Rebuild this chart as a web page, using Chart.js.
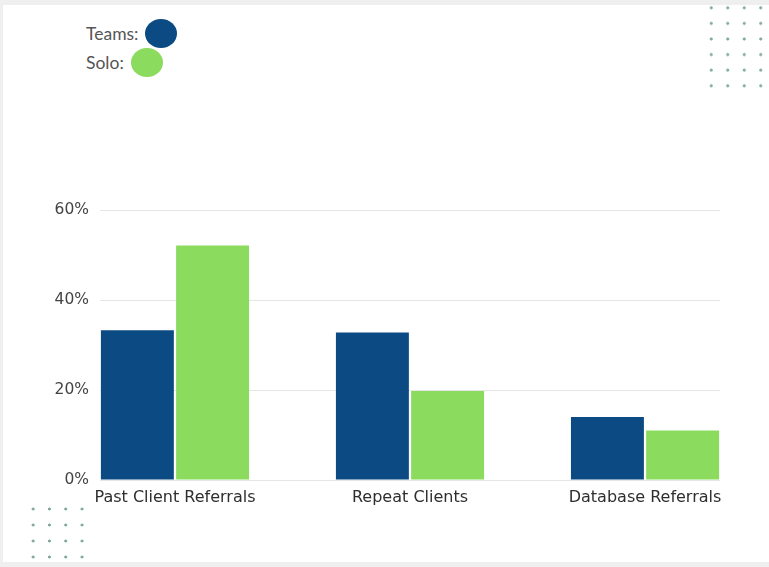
<!DOCTYPE html>
<html>
<head>
<meta charset="utf-8">
<script src="https://cdn.jsdelivr.net/npm/chart.js@4.4.1/dist/chart.umd.min.js"></script>
<style>
  html, body { margin: 0; padding: 0; background: #efefef; }
  #card { position: absolute; left: 3px; top: 5px; right: 0; bottom: 5px; background: #fff; }
  #wrap { position: absolute; left: 0; top: 0; width: 769px; height: 567px; }
  .legend { position: absolute; left: 86px; height: 30px; font-family: Lato, sans-serif; font-size: 17.5px; color: #555; display: flex; align-items: center; }
  .legend span.dot { display: inline-block; width: 32px; height: 29px; border-radius: 50%; margin-left: 7px; }
  .dots { position: absolute; background-image: radial-gradient(circle, #7faaa5 1.3px, transparent 1.8px); }
</style>
</head>
<body>
<div id="card"></div>
<div class="dots" style="left:703px; top:0px; width:66px; height:94px; background-size:16.5px 15.6px;"></div>
<div class="dots" style="left:25px; top:501px; width:66px; height:64px; background-size:16.3px 16px;"></div>
<div class="legend" style="top:18px;">Teams:<span class="dot" id="dotTeams"></span></div>
<div class="legend" style="top:47px;">Solo:<span class="dot" id="dotSolo"></span></div>
<div id="wrap"><canvas id="barChart" width="769" height="567"></canvas></div>
<script>
// categories and values (percent)
const categories = ["Past Client Referrals", "Repeat Clients", "Database Referrals"];
const teamsValues = [33.3, 32.8, 14];
const soloValues = [52.1, 19.8, 11];
const yTicks = [0, 20, 40, 60];

const teamsColor = "#0b4a82";
const soloColor = "#8bdb5f";

document.getElementById("dotTeams").style.background = teamsColor;
document.getElementById("dotSolo").style.background = soloColor;

const toPoints = (arr) => arr.map((v, i) => ({ x: i, y: v }));

const ctx = document.getElementById("barChart");
new Chart(ctx, {
  type: "bar",
  data: {
    datasets: [
      {
        label: "Teams",
        data: toPoints(teamsValues),
        backgroundColor: teamsColor,
        categoryPercentage: 0.64,
        barPercentage: 0.97,
      },
      {
        label: "Solo",
        data: toPoints(soloValues),
        backgroundColor: soloColor,
        categoryPercentage: 0.64,
        barPercentage: 0.97,
      },
    ],
  },
  options: {
    responsive: false,
    animation: false,
    layout: { padding: { left: 0, right: 49, top: 210, bottom: 57 } },
    plugins: { legend: { display: false }, tooltip: { enabled: false } },
    scales: {
      x: {
        type: "linear",
        offset: false,
        min: -0.319,
        max: 2.319,
        grid: { display: false, drawTicks: false, offset: false },
        border: { display: false },
        afterBuildTicks: (scale) => {
          scale.ticks = categories.map((_, i) => ({ value: i }));
        },
        afterFit: (scale) => {
          scale.height = 30;
        },
        ticks: {
          padding: 8,
          color: "#2e2e2e",
          font: { family: "'DejaVu Sans'", size: 16 },
          callback: (v) => categories[v],
        },
      },
      y: {
        min: 0,
        max: 60,
        afterBuildTicks: (scale) => {
          scale.ticks = yTicks.map((v) => ({ value: v }));
        },
        afterFit: (scale) => {
          scale.width = 100;
        },
        grid: { color: "#e6e6e6", drawTicks: false },
        border: { display: false },
        ticks: {
          padding: 11,
          color: "#444",
          font: { family: "'DejaVu Sans'", size: 15.5 },
          callback: (v) => v + "%",
        },
      },
    },
  },
});
</script>
</body>
</html>
